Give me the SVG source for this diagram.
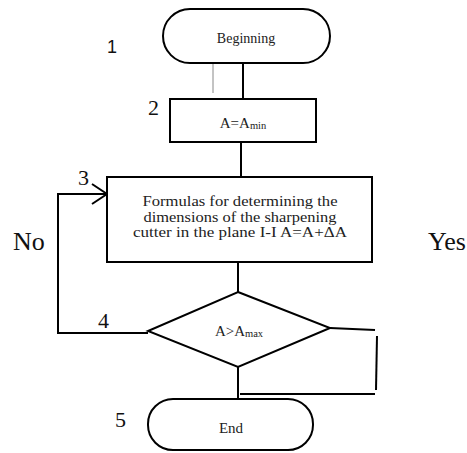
<svg xmlns="http://www.w3.org/2000/svg" width="467" height="453" viewBox="0 0 467 453">
<style>
.s{fill:#fff;stroke:#000;stroke-width:2}
.c{fill:none;stroke:#000;stroke-width:2}
.t{font-family:"Liberation Serif","Times New Roman",serif;fill:#222;text-anchor:middle}
.n{font-family:"Liberation Serif","Times New Roman",serif;fill:#111;font-size:22px}
</style>
<rect width="467" height="453" fill="#fff"/>
<g id="connectors">
<line x1="213" y1="63" x2="213" y2="93" stroke="#888" stroke-width="1"/>
<line class="c" x1="243" y1="63" x2="243" y2="99"/>
<line class="c" x1="241" y1="142" x2="241" y2="177"/>
<line class="c" x1="238" y1="262" x2="238" y2="292"/>
<polyline class="c" points="148,333 58,333 58,194 107,194"/>
<polyline class="c" points="92,184 107,194 92,204"/>
<polyline class="c" points="330,328 375,330"/>
<line class="c" x1="377" y1="336" x2="376" y2="390"/>
<line class="c" x1="240" y1="394" x2="375" y2="394"/>
<line class="c" x1="238" y1="367" x2="238" y2="399"/>
</g>
<g id="n1">
<rect class="s" x="163" y="9" width="167" height="54" rx="27"/>
<text class="t" x="246" y="43" font-size="14">Beginning</text>
<text x="107" y="53" font-family="Liberation Sans,Arial,sans-serif" font-size="18" fill="#111">1</text>
</g>
<g id="n2">
<rect class="s" x="170" y="99" width="146" height="43"/>
<text class="t" x="243" y="128" font-size="15">A=A<tspan font-size="10.5" dy="1">min</tspan></text>
<text class="n" x="148" y="115">2</text>
</g>
<g id="n3">
<rect class="s" x="107" y="177" width="265" height="85"/>
<text class="t" x="240" y="206" font-size="14.5" textLength="195" lengthAdjust="spacingAndGlyphs">Formulas for determining the</text>
<text class="t" x="240" y="221.5" font-size="14.5" textLength="193" lengthAdjust="spacingAndGlyphs">dimensions of the sharpening</text>
<text class="t" x="240" y="237" font-size="14.5" textLength="214" lengthAdjust="spacingAndGlyphs">cutter in the plane I-I  A=A+ΔA</text>
<text class="n" x="78" y="185">3</text>
</g>
<g id="n4">
<polygon class="s" points="238,292 330,328 238,367 148,331"/>
<text class="t" x="239" y="336" font-size="15">A&gt;A<tspan font-size="10.5" dy="1">max</tspan></text>
<text class="n" x="98" y="328">4</text>
</g>
<g id="n5">
<rect class="s" x="148" y="399" width="165" height="51" rx="25"/>
<text class="t" x="231" y="433" font-size="15">End</text>
<text class="n" x="115" y="427">5</text>
</g>
<text class="n" x="13" y="250" font-size="26" style="font-size:26px">No</text>
<text class="n" x="428" y="250" style="font-size:26px">Yes</text>
</svg>
